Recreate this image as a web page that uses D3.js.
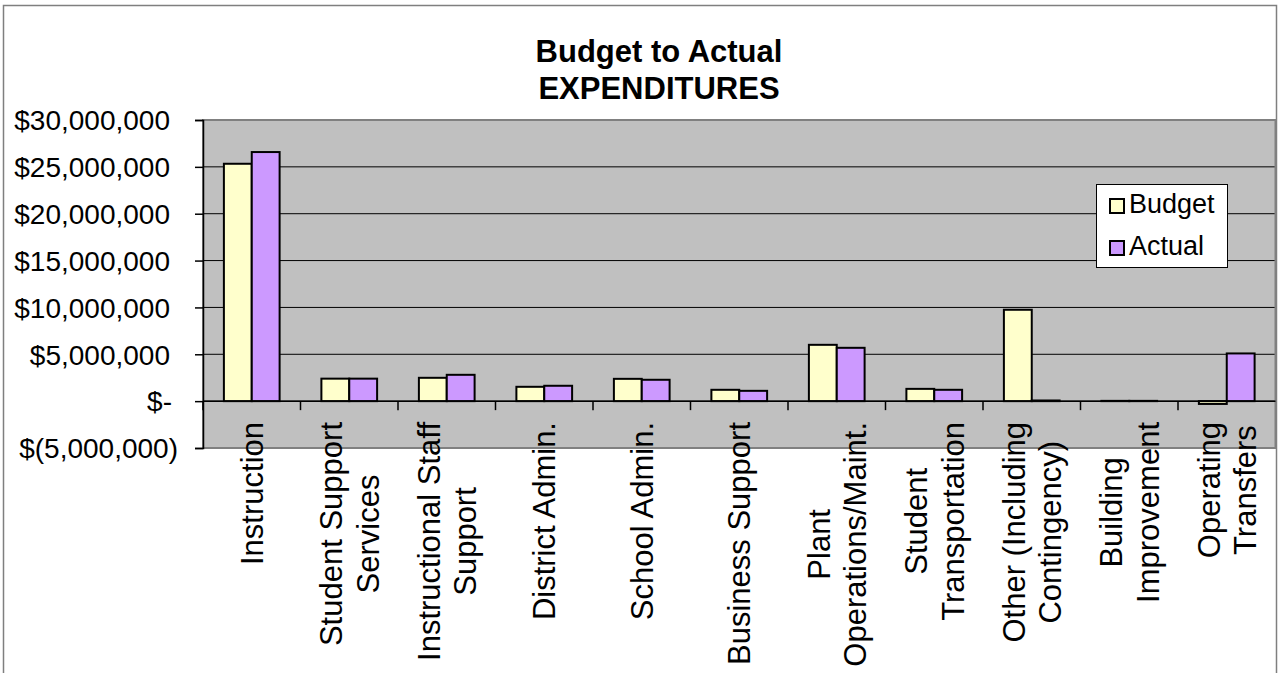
<!DOCTYPE html>
<html>
<head>
<meta charset="utf-8">
<script src="https://cdn.jsdelivr.net/npm/d3@7"></script>
<style>
  body { margin: 0; background: #fff; }
  text { font-family: Arial, "Liberation Sans", sans-serif; fill: #000; }
</style>
</head>
<body>
<script>
// categories and the lines each label is broken into
var categories = ["Instruction", "Student Support Services", "Instructional Staff Support",
  "District Admin.", "School Admin.", "Business Support", "Plant Operations/Maint.",
  "Student Transportation", "Other (Including Contingency)", "Building Improvement",
  "Operating Transfers"];
var labelLines = [["Instruction"], ["Student Support", "Services"], ["Instructional Staff", "Support"],
  ["District Admin."], ["School Admin."], ["Business Support"], ["Plant", "Operations/Maint."],
  ["Student", "Transportation"], ["Other (Including", "Contingency)"], ["Building", "Improvement"],
  ["Operating", "Transfers"]];
var seriesNames = ["Budget", "Actual"];
var budget = [25330000, 2400000, 2490000, 1530000, 2380000, 1210000, 6010000, 1310000, 9750000, 30000, -300000];
var actual = [26580000, 2400000, 2810000, 1640000, 2280000, 1100000, 5690000, 1210000, 70000, 30000, 5090000];
var yTicks = [-5000000, 0, 5000000, 10000000, 15000000, 20000000, 25000000, 30000000];
var colors = {Budget: "#FFFFCC", Actual: "#CC99FF"};

var W = 1279, H = 673;
var plot = {left: 203, right: 1275.5, top: 120, bottom: 448};

var svg = d3.select("body").append("svg")
    .attr("width", W)
    .attr("height", H);

// chart frame
svg.append("rect")
    .attr("x", 3.5).attr("y", 5.5)
    .attr("width", 1273).attr("height", 700)
    .attr("fill", "#fff")
    .attr("stroke", "#7f7f7f")
    .attr("stroke-width", 1.5);

// scales
var x0 = d3.scaleBand().domain(categories).range([plot.left, plot.right]).padding(0);
var x1 = d3.scaleBand().domain(seriesNames).range([0, x0.bandwidth()])
    .paddingInner(0).paddingOuter(0.75);
var y = d3.scaleLinear().domain([-5000000, 30000000]).range([plot.bottom, plot.top]);

// plot area
svg.append("rect")
    .attr("x", plot.left).attr("y", plot.top)
    .attr("width", plot.right - plot.left).attr("height", plot.bottom - plot.top)
    .attr("fill", "#C0C0C0");

// gridlines
svg.append("g").selectAll("line")
    .data(yTicks)
  .enter().append("line")
    .attr("x1", plot.left).attr("x2", plot.right)
    .attr("y1", function(d) { return y(d); })
    .attr("y2", function(d) { return y(d); })
    .attr("stroke", "#000")
    .attr("stroke-width", 1);

// plot border
svg.append("rect")
    .attr("x", plot.left).attr("y", plot.top)
    .attr("width", plot.right - plot.left).attr("height", plot.bottom - plot.top)
    .attr("fill", "none")
    .attr("stroke", "#808080")
    .attr("stroke-width", 2);

// y axis
var fmt = d3.format(",");
var yAxis = svg.append("g")
    .attr("transform", "translate(" + plot.left + ",0)")
    .call(d3.axisLeft(y).tickValues(yTicks).tickSize(8).tickPadding(0)
      .tickFormat(function(d) {
        if (d === 0) return "$-";
        if (d < 0) return "$(" + fmt(-d) + ")";
        return "$" + fmt(d);
      }));
yAxis.select(".domain").attr("stroke", "#000").attr("stroke-width", 1.5);
yAxis.selectAll(".tick line").attr("stroke", "#000").attr("stroke-width", 1.5);
yAxis.selectAll(".tick text")
    .style("font-size", "28px")
    .attr("x", function(d) { return d < 0 ? -25 : (d === 0 ? -31 : -33); })
    .attr("dy", "0.35em");

// bars
var rows = categories.map(function(c, i) {
  return {cat: c, vals: [{key: "Budget", v: budget[i]}, {key: "Actual", v: actual[i]}]};
});
var groups = svg.append("g").selectAll("g")
    .data(rows)
  .enter().append("g")
    .attr("transform", function(d) { return "translate(" + x0(d.cat) + ",0)"; });
groups.selectAll("rect")
    .data(function(d) { return d.vals; })
  .enter().append("rect")
    .attr("x", function(d) { return x1(d.key); })
    .attr("width", x1.bandwidth())
    .attr("y", function(d) { return y(Math.max(0, d.v)); })
    .attr("height", function(d) { return Math.abs(y(d.v) - y(0)); })
    .attr("fill", function(d) { return colors[d.key]; })
    .attr("stroke", "#000")
    .attr("stroke-width", 2);

// category axis at zero with boundary ticks
svg.append("line")
    .attr("x1", plot.left).attr("x2", plot.right)
    .attr("y1", y(0)).attr("y2", y(0))
    .attr("stroke", "#000").attr("stroke-width", 1.5);
svg.append("g").selectAll("line")
    .data(categories)
  .enter().append("line")
    .attr("x1", function(d) { return x0(d); })
    .attr("x2", function(d) { return x0(d); })
    .attr("y1", y(0)).attr("y2", y(0) + 9)
    .attr("stroke", "#000").attr("stroke-width", 1.5);

// category labels, rotated, block top at a fixed line
var labelTop = 422, lineH = 36.6;
var labels = svg.append("g").selectAll("g")
    .data(categories)
  .enter().append("g")
    .attr("transform", function(d) {
      return "translate(" + (x0(d) + x0.bandwidth() / 2) + "," + labelTop + ") rotate(-90)";
    });
labels.each(function(d, i) {
  var g = d3.select(this);
  var lines = labelLines[i];
  var texts = lines.map(function(t, j) {
    return g.append("text")
      .style("font-size", "31px")
      .attr("text-anchor", "middle")
      .attr("y", (j - (lines.length - 1) / 2) * lineH)
      .attr("dy", "0.36em")
      .text(t);
  });
  var maxLen = d3.max(texts, function(t) { return t.node().getComputedTextLength(); });
  texts.forEach(function(t) { t.attr("x", -maxLen / 2); });
});

// title
var title = svg.append("text")
    .attr("text-anchor", "middle")
    .style("font-size", "31px")
    .style("font-weight", "bold");
title.append("tspan").attr("x", 659).attr("y", 62).text("Budget to Actual");
title.append("tspan").attr("x", 659).attr("y", 99).text("EXPENDITURES");

// legend
var legend = svg.append("g");
legend.append("rect")
    .attr("x", 1096.5).attr("y", 184.5)
    .attr("width", 131).attr("height", 83)
    .attr("fill", "#fff")
    .attr("stroke", "#000")
    .attr("stroke-width", 1);
var items = legend.selectAll("g.item")
    .data(seriesNames)
  .enter().append("g")
    .attr("class", "item")
    .attr("transform", function(d, i) { return "translate(1110," + (199 + i * 42) + ")"; });
items.append("rect")
    .attr("width", 14).attr("height", 14)
    .attr("fill", function(d) { return colors[d]; })
    .attr("stroke", "#000")
    .attr("stroke-width", 2);
items.append("text")
    .attr("x", 19).attr("y", 14)
    .style("font-size", "27px")
    .text(function(d) { return d; });
</script>
</body>
</html>
